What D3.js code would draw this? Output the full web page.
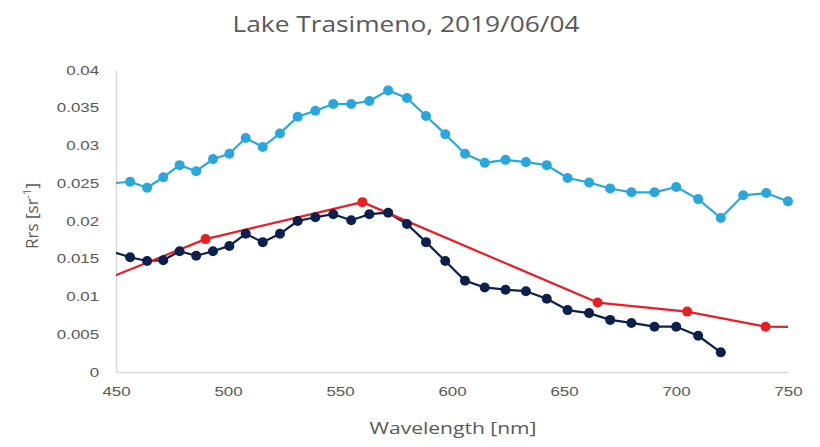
<!DOCTYPE html>
<html>
<head>
<meta charset="utf-8">
<script src="https://cdn.jsdelivr.net/npm/d3@7"></script>
<style>
  html, body { margin: 0; padding: 0; background: #fff; }
  svg { display: block; font-family: "Open Sans", "Noto Sans", sans-serif; }
</style>
</head>
<body>
<svg id="chart" width="820" height="447"></svg>
<script>
// Hyperspectral band centres (nm)
const bands = [448.8, 456.3, 463.9, 471.1, 478.4, 485.8, 493.3, 500.6, 507.9, 515.5,
  523.2, 531.1, 539.0, 547.0, 555.0, 563.1, 571.5, 579.9, 588.4, 597.0,
  605.8, 614.6, 623.9, 633.0, 642.3, 651.6, 661.2, 670.6, 680.1, 690.4,
  700.1, 709.9, 720.0, 730.0, 740.3, 750.0];

// Light-blue spectrum (all bands)
const rrsLight = [0.0250, 0.0252, 0.0244, 0.0258, 0.0274, 0.0266, 0.0282, 0.0289, 0.0310, 0.0298,
  0.0316, 0.0338, 0.0346, 0.0355, 0.0355, 0.0359, 0.0373, 0.0363, 0.0339, 0.0315,
  0.0289, 0.0277, 0.0281, 0.0278, 0.0274, 0.0257, 0.0251, 0.0243, 0.0238, 0.0238,
  0.0245, 0.0229, 0.0204, 0.0234, 0.0237, 0.0226];

// Dark-navy spectrum (bands up to 720 nm)
const rrsDark = [0.0159, 0.0152, 0.0147, 0.0148, 0.0160, 0.0154, 0.0160, 0.0167, 0.0183, 0.0172,
  0.0183, 0.0200, 0.0205, 0.0209, 0.0201, 0.0209, 0.0211, 0.0196, 0.0172, 0.0147,
  0.0121, 0.0112, 0.0109, 0.0107, 0.0097, 0.0082, 0.0078, 0.0069, 0.0065, 0.0060,
  0.0060, 0.0048, 0.0026];

// Multispectral bands and the red spectrum
const msiBands = [443, 490, 560, 665, 705, 740, 783];
const rrsRed = [0.0120, 0.0176, 0.0225, 0.0092, 0.0080, 0.0060, 0.0059];

const xTicks = [450, 500, 550, 600, 650, 700, 750];
const yTicks = [0, 0.005, 0.01, 0.015, 0.02, 0.025, 0.03, 0.035, 0.04];
const yTickLabels = ["0", "0.005", "0.01", "0.015", "0.02", "0.025", "0.03", "0.035", "0.04"];

const titleText = "Lake Trasimeno, 2019/06/04";
const xTitle = "Wavelength [nm]";

const svg = d3.select("#chart");
const plotLeft = 116, plotRight = 788, plotTop = 70, plotBottom = 372;

const x = d3.scaleLinear().domain([450, 750]).range([plotLeft, plotRight]);
const y = d3.scaleLinear().domain([0, 0.04]).range([plotBottom, plotTop]);

const axisGrey = "#d9d9d9";
const textGrey = "#595959";
const labelStretch = 1.3; // wide label lettering

// Plot clip so out-of-range segments are trimmed at the axis limits
svg.append("defs").append("clipPath").attr("id", "plotClip")
  .append("rect").attr("x", plotLeft).attr("y", plotTop - 10)
  .attr("width", plotRight - plotLeft).attr("height", plotBottom - plotTop + 20);

// Y axis
const yAxis = svg.append("g").attr("transform", `translate(${plotLeft},0)`)
  .call(d3.axisLeft(y).tickValues(yTicks).tickSize(0).tickPadding(13)
    .tickFormat((d, i) => yTickLabels[i]));
yAxis.select(".domain").attr("stroke", axisGrey).attr("stroke-width", 1.5);
yAxis.selectAll("text").attr("fill", textGrey).attr("font-size", 13)
  .attr("transform", `scale(${labelStretch},1)`);

// X axis
const xAxis = svg.append("g").attr("transform", `translate(0,${plotBottom})`)
  .call(d3.axisBottom(x).tickValues(xTicks).tickSize(0).tickPadding(15)
    .tickFormat(d3.format("d")));
xAxis.select(".domain").attr("stroke", axisGrey).attr("stroke-width", 1.5);
xAxis.selectAll("text").attr("fill", textGrey).attr("font-size", 13)
  .attr("transform", `scale(${labelStretch},1)`);

const plot = svg.append("g").attr("clip-path", "url(#plotClip)");
const line = d3.line().x(d => x(d[0])).y(d => y(d[1]));

function drawSeries(wl, vals, color, r, lw) {
  const pts = vals.map((v, i) => [wl[i], v]);
  plot.append("path").datum(pts)
    .attr("fill", "none").attr("stroke", color)
    .attr("stroke-width", lw).attr("stroke-linejoin", "round")
    .attr("d", line);
  svg.append("g").selectAll("circle")
    .data(pts.filter(p => p[0] > 449 && p[0] <= 750)).join("circle")
    .attr("cx", d => x(d[0])).attr("cy", d => y(d[1]))
    .attr("r", r).attr("fill", color);
}

drawSeries(bands, rrsLight, "#28a7df", 5, 2.2);
drawSeries(bands, rrsDark, "#0c1f4d", 5, 2.2);
drawSeries(msiBands, rrsRed, "#ec1c24", 5, 2.2);

// Titles
svg.append("text").attr("x", 406).attr("y", 32).attr("text-anchor", "middle")
  .attr("font-size", 21).attr("fill", textGrey)
  .attr("textLength", 347).attr("lengthAdjust", "spacingAndGlyphs")
  .text(titleText);

svg.append("text").attr("x", 453).attr("y", 434).attr("text-anchor", "middle")
  .attr("font-size", 16).attr("fill", textGrey)
  .attr("textLength", 167).attr("lengthAdjust", "spacingAndGlyphs")
  .text(xTitle);

const yt = svg.append("text")
  .attr("transform", "translate(38,216) rotate(-90)")
  .attr("text-anchor", "middle").attr("font-size", 17).attr("fill", textGrey);
yt.append("tspan").text("Rrs [sr");
yt.append("tspan").attr("font-size", 11).attr("dy", -7).text("-1");
yt.append("tspan").attr("dy", 7).text("]");
</script>
</body>
</html>
